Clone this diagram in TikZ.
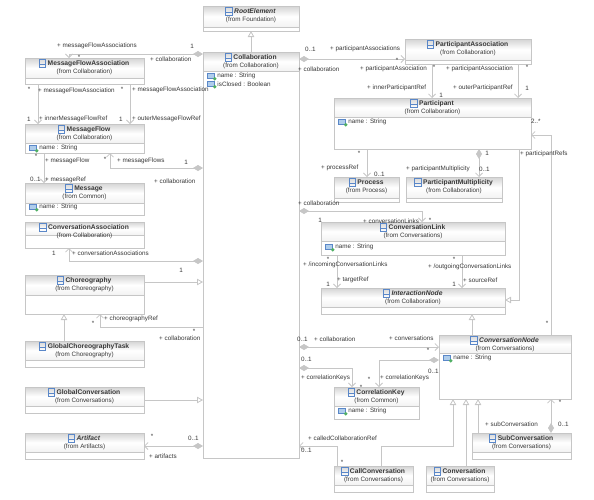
\documentclass[tikz,border=0pt]{standalone}
\usepackage{fontspec}
\setmainfont{Liberation Sans}
\usepackage{xcolor}
\usepackage{tikz}
\usetikzlibrary{arrows.meta,positioning}
\definecolor{linegray}{RGB}{198, 198, 198}
\definecolor{headgray}{RGB}{212, 212, 212}
\definecolor{textgray}{RGB}{55, 55, 55}
\definecolor{iconblue}{RGB}{90, 135, 200}
\definecolor{iconfill}{RGB}{175, 205, 235}
\definecolor{icongreen}{RGB}{80, 175, 100}
\newcommand{\umlclass}[8]{%
    \node[classbox, minimum width={(#4-#2)*1pt}, minimum height={(#5-#3)*1pt}] (#1) at ({(#2+#4)/2},{(#3+#5)/2}) {};
    \shade[headshade] (#1.north west) rectangle (#1.east |- 0,#6);
    \draw[classline] (#1.north west) rectangle (#1.south east);
    \node[classtitle] (#1-title) at ({(#2+#4)/2+4},{#3+5.5}) {#7};
    \node[classicon, left=1.5pt of #1-title] (#1-icon) {};
    \draw[iconline] ([yshift=-1pt]#1-icon.west) -- ([yshift=-1pt]#1-icon.east);
    \node[classfrom] (#1-from) at ({(#2+#4)/2},{#3+14}) {(from #8)};
}
\newcommand{\umlattr}[4]{%
    \node[attricon] (#1-icon) at (#2,#3) {};
    \fill[icongreen] (#1-icon.south east) circle (1.8);
    \node[lbl, right=2.5pt of #1-icon] (#1) {#4};
}

\begin{document}
\begin{tikzpicture}[x=1pt, y=-1pt,
    classbox/.style={rectangle, draw=linegray, line width=0.8pt, fill=white, inner sep=0pt, outer sep=0pt},
    classline/.style={draw=linegray, line width=0.8pt},
    headshade/.style={top color=headgray, bottom color=headgray!30, middle color=white, draw=linegray, line width=0.8pt},
    classtitle/.style={font=\fontsize{6.7}{8}\selectfont\bfseries, inner sep=0pt, text=textgray},
    classfrom/.style={font=\fontsize{6.3}{8}\selectfont, inner sep=0pt, text=textgray},
    classicon/.style={rectangle, draw=iconblue, line width=0.7pt, minimum width=6.5pt, minimum height=7.5pt, inner sep=0pt},
    iconline/.style={draw=iconblue, line width=0.7pt},
    attricon/.style={rectangle, draw=iconblue, fill=iconfill, line width=0.5pt, minimum width=7pt, minimum height=5pt, inner sep=0pt},
    lbl/.style={font=\fontsize{6.3}{8}\selectfont, anchor=west, inner sep=0pt, text=textgray},
    mult/.style={font=\fontsize{6.3}{8}\selectfont, inner sep=0pt, text=textgray},
    assoc/.style={draw=linegray, line width=0.8pt, -{Straight Barb[length=3.5pt, width=7pt]}},
    comp/.style={assoc, {Diamond[length=10pt, width=6pt, fill=linegray]}-{Straight Barb[length=3.5pt, width=7pt]}},
    gener/.style={draw=linegray, line width=0.8pt, -{Triangle[open, length=6pt, width=6.5pt, fill=white]}},
    ]
    \useasboundingbox (0,0) rectangle (594,499);

    \umlclass{Collaboration}{203}{52}{299}{458}{71}{Collaboration}{Collaboration}
    \umlclass{RootElement}{203}{6}{299}{31}{27}{\textit{RootElement}}{Foundation}
    \umlclass{MessageFlowAssociation}{25}{58}{144}{84}{78}{MessageFlowAssociation}{Collaboration}
    \umlclass{MessageFlow}{25}{124}{144}{153}{143}{MessageFlow}{Collaboration}
    \umlclass{Message}{25}{183}{144}{215}{203}{Message}{Common}
    \umlclass{ConversationAssociation}{25}{222}{144}{248}{235}{ConversationAssociation}{Collaboration}
    \umlclass{Choreography}{25}{275}{144}{314}{295}{Choreography}{Choreography}
    \umlclass{GlobalChoreographyTask}{25}{341}{144}{367}{360}{GlobalChoreographyTask}{Choreography}
    \umlclass{GlobalConversation}{25}{387}{144}{413}{406}{GlobalConversation}{Conversations}
    \umlclass{Artifact}{25}{433}{144}{459}{452}{\textit{Artifact}}{Artifacts}
    \umlclass{ParticipantAssociation}{405}{39}{531}{64}{60}{ParticipantAssociation}{Collaboration}
    \umlclass{Participant}{334}{98}{531}{149}{117}{Participant}{Collaboration}
    \umlclass{Process}{334}{177}{399}{202}{198}{Process}{Process}
    \umlclass{ParticipantMultiplicity}{406}{177}{502}{202}{198}{ParticipantMultiplicity}{Collaboration}
    \umlclass{ConversationLink}{321}{222}{505}{255}{241}{ConversationLink}{Conversations}
    \umlclass{InteractionNode}{321}{288}{505}{314}{307}{\textit{InteractionNode}}{Collaboration}
    \umlclass{ConversationNode}{439}{335}{571}{399}{353}{\textit{ConversationNode}}{Conversations}
    \umlclass{CorrelationKey}{334}{387}{419}{419}{406}{CorrelationKey}{Common}
    \umlclass{SubConversation}{472}{433}{571}{459}{452}{SubConversation}{Conversations}
    \umlclass{CallConversation}{334}{466}{413}{492}{485}{CallConversation}{Conversations}
    \umlclass{Conversation}{426}{466}{494}{492}{485}{Conversation}{Conversations}

    \umlattr{CollaborationName}{211}{76}{name : String}
    \umlattr{CollaborationClosed}{211}{84}{isClosed : Boolean}
    \umlattr{MessageFlowName}{33}{148}{name : String}
    \umlattr{MessageName}{33}{207}{name : String}
    \umlattr{ParticipantName}{342}{122}{name : String}
    \umlattr{ConversationLinkName}{329}{247}{name : String}
    \umlattr{ConversationNodeName}{447}{358}{name : String}
    \umlattr{CorrelationKeyName}{342}{411}{name : String}

    \draw[gener] (Collaboration.north -| 251,0) -- (RootElement.south -| 251,0);
    \draw[comp] (Collaboration.west |- 0,54) -| (MessageFlowAssociation.north -| 69,0);
    \draw[assoc] (MessageFlowAssociation.south -| 38,0) -- (MessageFlow.north -| 38,0);
    \draw[assoc] (MessageFlowAssociation.south -| 130,0) -- (MessageFlow.north -| 130,0);
    \draw[assoc] (MessageFlow.south -| 44,0) -- (Message.north -| 44,0);
    \draw[comp] (Collaboration.west |- 0,168) -| (MessageFlow.south -| 110,0);
    \draw[comp] (Collaboration.west |- 0,261) -| (ConversationAssociation.south -| 69,0);
    \draw[gener] (Choreography.east |- 0,282) -- (Collaboration.west |- 0,282);
    \draw[gener] (GlobalChoreographyTask.north -| 64,0) -- (Choreography.south -| 64,0);
    \draw[assoc] (Collaboration.west |- 0,327) -| (Choreography.south -| 100,0);
    \draw[gener] (GlobalConversation.east |- 0,400) -- (Collaboration.west |- 0,400);
    \draw[comp] (Collaboration.west |- 0,446) -- (Artifact.east |- 0,446);

    \draw[comp] (Collaboration.east |- 0,59) -- (ParticipantAssociation.west |- 0,59);
    \draw[assoc] (ParticipantAssociation.south -| 432,0) -- (Participant.north -| 432,0);
    \draw[assoc] (ParticipantAssociation.south -| 518,0) -- (Participant.north -| 518,0);
    \draw[assoc] (Participant.south -| 367,0) -- (Process.north -| 367,0);
    \draw[comp] (Participant.south -| 479,0) -- (ParticipantMultiplicity.north -| 479,0);
    \draw[assoc] (ConversationNode.north -| 551,0) |- (Participant.east |- 0,135);
    \draw[gener] (Participant.south -| 519,0) |- (InteractionNode.east |- 0,300);
    \draw[comp] (Collaboration.east |- 0,211) -| (ConversationLink.north -| 422,0);
    \draw[assoc] (ConversationLink.south -| 337,0) -- (InteractionNode.north -| 337,0);
    \draw[assoc] (ConversationLink.south -| 462,0) -- (InteractionNode.north -| 462,0);
    \draw[gener] (ConversationNode.north -| 472,0) -- (InteractionNode.south -| 472,0);
    \draw[comp] (Collaboration.east |- 0,347) -- (ConversationNode.west |- 0,347);
    \draw[comp] (Collaboration.east |- 0,368) -| (CorrelationKey.north -| 352,0);
    \draw[comp] (ConversationNode.west |- 0,360) -| (CorrelationKey.north -| 379,0);
    \draw[gener] (CallConversation.north -| 381,0) |- (453,446) -- (ConversationNode.south -| 453,0);
    \draw[gener] (Conversation.north -| 466,0) -- (ConversationNode.south -| 466,0);
    \draw[gener] (SubConversation.north -| 478,0) -- (ConversationNode.south -| 478,0);
    \draw[comp] (SubConversation.north -| 551,0) -- (ConversationNode.south -| 551,0);
    \draw[assoc] (CallConversation.north -| 337,0) |- (Collaboration.east |- 0,446);

    \node[lbl] (mfaRole) at (57,46) {+ messageFlowAssociations};
    \node[mult] (mfaOne) at (192,46) {1};
    \node[mult] (mfaStar) at (79,57) {*};
    \node[lbl] (mfaCollab) at (150,59) {+ collaboration};
    \node[mult] (innerStar) at (29,89) {*};
    \node[lbl] (innerAssoc) at (38,91) {+ messageFlowAssociation};
    \node[mult] (outerStar) at (122,89) {*};
    \node[lbl] (outerAssoc) at (132,90) {+ messageFlowAssociation};
    \node[mult] (innerOne) at (29,119) {1};
    \node[lbl] (innerRef) at (39,119) {+ innerMessageFlowRef};
    \node[mult] (outerOne) at (121,119) {1};
    \node[lbl] (outerRef) at (132,119) {+ outerMessageFlowRef};
    \node[mult] (flowStar) at (36,156) {*};
    \node[lbl] (flowRole) at (45,161) {+ messageFlow};
    \node[mult] (flowsStar) at (105,159) {*};
    \node[lbl] (flowsRole) at (117,161) {+ messageFlows};
    \node[mult] (flowsOne) at (186,162) {1};
    \node[lbl] (msgMult) at (30,179) {0..1};
    \node[lbl] (msgRef) at (45,180) {+ messageRef};
    \node[lbl] (flowsCollab) at (154,181) {+ collaboration};
    \node[mult] (convAssocOne) at (54,253) {1};
    \node[lbl] (convAssocRole) at (72,253) {+ conversationAssociations};
    \node[mult] (convCollabOne) at (181,270) {1};
    \node[lbl] (choreoRef) at (104,319) {+ choreographyRef};
    \node[mult] (choreoStar) at (93,323) {*};
    \node[mult] (choreoCollabStar) at (194,331) {*};
    \node[lbl] (choreoCollab) at (159,338) {+ collaboration};
    \node[mult] (artStar) at (152,436) {*};
    \node[lbl] (artMult) at (188,438) {0..1};
    \node[lbl] (artRole) at (149,456) {+ artifacts};

    \node[lbl] (paMult) at (305,49) {0..1};
    \node[lbl] (paRole) at (330,49) {+ participantAssociations};
    \node[mult] (paStar) at (397,60) {*};
    \node[lbl] (paCollab) at (298,69) {+ collaboration};
    \node[lbl] (paInner) at (360,69) {+ participantAssociation};
    \node[mult] (paInnerStar) at (434,67) {*};
    \node[lbl] (paOuter) at (446,69) {+ participantAssociation};
    \node[mult] (paOuterStar) at (527,67) {*};
    \node[lbl] (innerPart) at (367,88) {+ innerParticipantRef};
    \node[mult] (innerPartOne) at (441,95) {1};
    \node[lbl] (outerPart) at (453,88) {+ outerParticipantRef};
    \node[mult] (outerPartOne) at (527,88) {1};
    \node[lbl] (partRefMult) at (531,121) {2..*};
    \node[mult] (procStar) at (359,153) {*};
    \node[mult] (multOne) at (487,153) {1};
    \node[lbl] (partRefs) at (520,154) {+ participantRefs};
    \node[lbl] (procRef) at (321,168) {+ processRef};
    \node[lbl] (procMult) at (374,174) {0..1};
    \node[lbl] (multRole) at (406,169) {+ participantMultiplicity};
    \node[lbl] (multMult) at (479,169) {0..1};
    \node[lbl] (linkCollab) at (298,203) {+ collaboration};
    \node[mult] (linkOne) at (320,220) {1};
    \node[lbl] (linkRole) at (363,221) {+ conversationLinks};
    \node[mult] (linkStar) at (430,220) {*};
    \node[mult] (incStar) at (328,259) {*};
    \node[mult] (outStar) at (454,259) {*};
    \node[lbl] (incRole) at (303,265) {+ /incomingConversationLinks};
    \node[lbl] (outRole) at (428,267) {+ /outgoingConversationLinks};
    \node[lbl] (targetRef) at (337,280) {+ targetRef};
    \node[lbl] (sourceRef) at (463,280) {+ sourceRef};
    \node[mult] (targetOne) at (328,284) {1};
    \node[mult] (sourceOne) at (454,284) {1};
    \node[mult] (refsStar) at (547,323) {*};

    \node[lbl] (nodeMult) at (297,339) {0..1};
    \node[lbl] (nodeCollab) at (314,339) {+ collaboration};
    \node[lbl] (nodeConvs) at (389,338) {+ conversations};
    \node[mult] (nodeStar) at (428,350) {*};
    \node[lbl] (keyMult) at (301,359) {0..1};
    \node[lbl] (keyRoleLeft) at (301,378) {+ correlationKeys};
    \node[mult] (keyStarLeft) at (361,387) {*};
    \node[mult] (keyStarRight) at (369,379) {*};
    \node[lbl] (keyRoleRight) at (380,378) {+ correlationKeys};
    \node[lbl] (keyNodeMult) at (428,371) {0..1};
    \node[lbl] (subRole) at (485,424) {+ subConversation};
    \node[lbl] (subMult) at (558,424) {0..1};
    \node[mult] (subStar) at (560,402) {*};
    \node[lbl] (calledRef) at (308,438) {+ calledCollaborationRef};
    \node[lbl] (calledMult) at (301,450) {0..1};
    \node[mult] (calledStar) at (342,462) {*};
\end{tikzpicture}
\end{document}
